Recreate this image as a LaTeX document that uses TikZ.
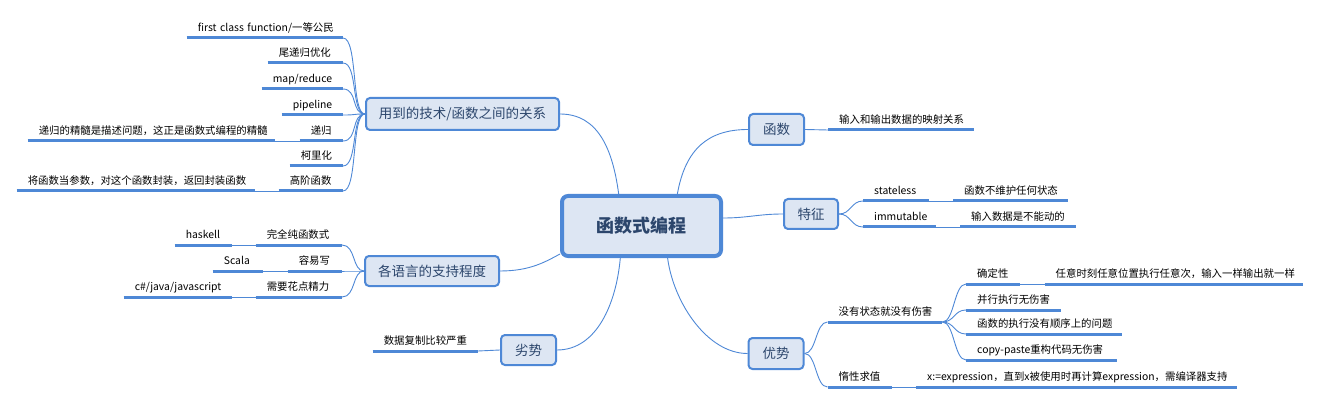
\documentclass[tikz,border=0pt]{standalone}
\usepackage{fontspec}
\setmainfont{Noto Sans CJK SC}
\usetikzlibrary{calc}
\pgfdeclarelayer{background}
\pgfsetlayers{background,main}
\definecolor{lineblue}{RGB}{78,136,214}
\definecolor{boxfill}{RGB}{221,230,243}
\definecolor{boxtext}{RGB}{44,70,108}
\tikzset{
  topic/.style={draw=lineblue, line width=2pt, fill=boxfill, rounded corners=4pt, text=boxtext, font=\fontsize{13.5}{15}\selectfont, inner sep=0pt},
  central/.style={draw=lineblue, line width=4pt, fill=boxfill, rounded corners=6pt, text=boxtext, font=\fontsize{18}{21}\selectfont\bfseries, inner sep=0pt},
  leaf/.style={font=\fontsize{10.4}{12}\selectfont, inner xsep=11pt, inner ysep=4pt, text height=8pt, text depth=2pt, align=left},
  uw/.code={\pgfmathsetmacro\leafw{#1-22}\edef\leaftmp{\noexpand\pgfkeysalso{text width=\leafw pt}}\leaftmp},
  ul/.style={draw=lineblue, line width=3pt},
  link/.style={draw=lineblue, line width=0.9pt},
}
\begin{document}
\begin{tikzpicture}[x=1pt,y=-1pt]
\useasboundingbox (0,0) rectangle (1321,403);
% central and topics
\node[central, minimum width=159pt, minimum height=60pt] (main) at (641.5,226) {函数式编程};
\node[topic, minimum width=193pt, minimum height=32pt] (tech) at (462.5,114) {用到的技术/函数之间的关系};
\node[topic, minimum width=134pt, minimum height=30pt] (lang) at (432,271) {各语言的支持程度};
\node[topic, minimum width=55pt, minimum height=30pt] (weak) at (528.5,350) {劣势};
\node[topic, minimum width=55pt, minimum height=31pt] (func) at (776.5,129.5) {函数};
\node[topic, minimum width=54pt, minimum height=30pt] (feat) at (811,214) {特征};
\node[topic, minimum width=55pt, minimum height=31pt] (adv) at (776,353.5) {优势};
% left leaves
\node[leaf, uw=156, anchor=south east] (t1) at (343,38) {\mbox{first class function/一等公民}};
\node[leaf, uw=75, anchor=south east] (t2) at (343,63) {尾递归优化};
\node[leaf, uw=81, anchor=south east] (t3) at (343,89) {map/reduce};
\node[leaf, uw=61, anchor=south east] (t4) at (343,115) {pipeline};
\node[leaf, uw=43, anchor=south east] (t5) at (343,141) {递归};
\node[leaf, uw=53, anchor=south east] (t6) at (343,166) {柯里化};
\node[leaf, uw=64, anchor=south east] (t7) at (343,191) {高阶函数};
\node[leaf, uw=247, anchor=south east] (t5a) at (275,141) {递归的精髓是描述问题，这正是函数式编程的精髓};
\node[leaf, uw=238, anchor=south east] (t7a) at (255,191) {将函数当参数，对这个函数封装，返回封装函数};
\node[leaf, uw=86, anchor=south east] (l1) at (342,245) {完全纯函数式};
\node[leaf, uw=54, anchor=south east] (l2) at (342,271) {容易写};
\node[leaf, uw=86, anchor=south east] (l3) at (342,297) {需要花点精力};
\node[leaf, uw=57, anchor=south east] (l1a) at (232,245) {haskell};
\node[leaf, uw=50, anchor=south east] (l2a) at (263,271) {Scala};
\node[leaf, uw=108, anchor=south east] (l3a) at (232,297) {\mbox{c\#/java/javascript}};
\node[leaf, uw=105, anchor=south east] (w1) at (478,351) {数据复制比较严重};
% right leaves
\node[leaf, uw=146, anchor=south west] (f1) at (828,130) {输入和输出数据的映射关系};
\node[leaf, uw=66, anchor=south west] (c1) at (863,201) {stateless};
\node[leaf, uw=115, anchor=south west] (c1a) at (953,201) {函数不维护任何状态};
\node[leaf, uw=73, anchor=south west] (c2) at (863,227) {immutable};
\node[leaf, uw=116, anchor=south west] (c2a) at (960,227) {输入数据是不能动的};
\node[leaf, uw=114.5, anchor=south west] (a1) at (827.5,322) {没有状态就没有伤害};
\node[leaf, uw=64.5, anchor=south west] (a2) at (827.5,387) {惰性求值};
\node[leaf, uw=321, anchor=south west] (a2a) at (916,387) {\mbox{x:=expression，直到x被使用时再计算expression，需编译器支持}};
\node[leaf, uw=54, anchor=south west] (a11) at (966,284) {确定性};
\node[leaf, uw=258.5, anchor=south west] (a11a) at (1044.5,284) {任意时刻任意位置执行任意次，输入一样输出就一样};
\node[leaf, uw=95, anchor=south west] (a12) at (966,310) {并行执行无伤害};
\node[leaf, uw=156, anchor=south west] (a13) at (966,334) {函数的执行没有顺序上的问题};
\node[leaf, uw=151, anchor=south west] (a14) at (966,360) {\mbox{copy-paste重构代码无伤害}};
% underlines
\foreach \n in {t1,t2,t3,t4,t5,t6,t7,t5a,t7a,l1,l2,l3,l1a,l2a,l3a,w1,f1,c1,c1a,c2,c2a,a1,a2,a2a,a11,a11a,a12,a13,a14}
  \draw[ul] (\n.south west) -- (\n.south east);
% connection points on the central box
\coordinate (mT1) at ($(main.north west)!0.36!(main.north east)$);
\coordinate (mT2) at ($(main.north west)!0.72!(main.north east)$);
\coordinate (mE) at ($(main.east)+(0,-8)$);
\coordinate (mW) at ($(main.south west)+(0,-4)$);
\coordinate (mB1) at ($(main.south west)!0.37!(main.south east)$);
\coordinate (mB2) at ($(main.south west)!0.66!(main.south east)$);
\begin{pgfonlayer}{background}
\draw[link] (tech.east) .. controls +(38,0) and +(-6,-45) .. (mT1);
\draw[link] (mT2) .. controls +(8,-45) and +(-40,0) .. (func.west);
\draw[link] (mE) .. controls +(25,0) and +(-25,0) .. (feat.west);
\draw[link] (lang.east) .. controls +(30,0) and +(-15,8) .. (mW);
\draw[link] (weak.east) .. controls +(40,0) and +(-4,45) .. (mB1);
\draw[link] (mB2) .. controls +(6,45) and +(-40,0) .. (adv.west);
\foreach \n in {t1,t2,t3,t4,t5,t6,t7}
  \draw[link] (tech.west) .. controls +(-14,0) and +(15,0) .. (\n.south east);
\draw[link] (t5.south west) -- (t5a.south east);
\draw[link] (t7.south west) -- (t7a.south east);
\foreach \n in {l1,l2,l3}
  \draw[link] (lang.west) .. controls +(-12,0) and +(14,0) .. (\n.south east);
\draw[link] (l1.south west) -- (l1a.south east);
\draw[link] (l2.south west) -- (l2a.south east);
\draw[link] (l3.south west) -- (l3a.south east);
\draw[link] (weak.west) -- (w1.south east);
\draw[link] (func.east) -- (f1.south west);
\foreach \n in {c1,c2}
  \draw[link] (feat.east) .. controls +(12,0) and +(-12,0) .. (\n.south west);
\draw[link] (c1.south east) -- (c1a.south west);
\draw[link] (c2.south east) -- (c2a.south west);
\foreach \n in {a1,a2}
  \draw[link] (adv.east) .. controls +(12,0) and +(-12,0) .. (\n.south west);
\foreach \n in {a11,a12,a13,a14}
  \draw[link] (a1.south east) .. controls +(12,0) and +(-12,0) .. (\n.south west);
\draw[link] (a2.south east) -- (a2a.south west);
\draw[link] (a11.south east) -- (a11a.south west);
\end{pgfonlayer}
\end{tikzpicture}
\end{document}
